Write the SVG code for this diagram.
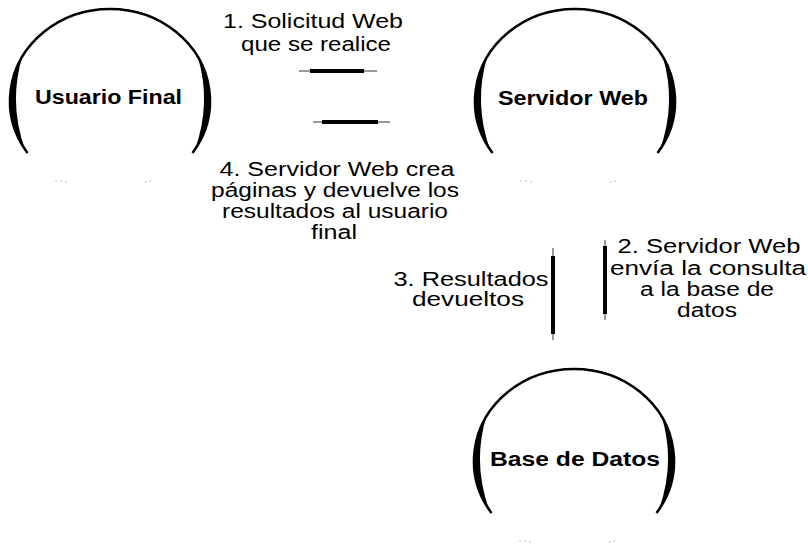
<svg xmlns="http://www.w3.org/2000/svg" xmlns:xlink="http://www.w3.org/1999/xlink" width="808" height="551" viewBox="0 0 808 551">
<style>
.arc{fill:none;stroke:#000;stroke-width:2.5}
.cres{fill:#000}
.dot{fill:#999;opacity:0.7}
.node{font-family:"Liberation Sans",Arial,sans-serif;font-weight:bold;font-size:20px;fill:#000;text-anchor:middle}
.lbl{font-family:"Liberation Sans",Arial,sans-serif;font-size:20px;fill:#000;text-anchor:middle}
.bar{stroke:#000;stroke-width:4}
.fade{stroke:#777;stroke-width:1.5}
</style>
<defs>
<g id="ring">
<path class="arc" d="M-82.5,52 A100,92 0 1,1 82.5,52"/>
<path class="cres" d="M-87.5,-45 A100,92 0 0,0 -84.5,50 Q-102,2 -87.5,-45 Z"/>
<path class="cres" d="M87.5,-45 A100,92 0 0,1 84.5,50 Q102,2 87.5,-45 Z"/>
<circle class="dot" cx="-54" cy="80" r="0.8"/>
<circle class="dot" cx="-49" cy="80" r="0.8"/>
<circle class="dot" cx="-44" cy="81" r="0.8"/>
<circle class="dot" cx="36" cy="81" r="0.8"/>
<circle class="dot" cx="40" cy="80" r="0.8"/>
</g>
</defs>
<rect width="808" height="551" fill="#fff"/>
<g id="usuario-final">
<use xlink:href="#ring" x="110" y="101"/>
<text class="node" x="108.5" y="104" textLength="147" lengthAdjust="spacingAndGlyphs">Usuario Final</text>
</g>
<g id="servidor-web">
<use xlink:href="#ring" x="575" y="101"/>
<text class="node" x="573" y="105" textLength="150" lengthAdjust="spacingAndGlyphs">Servidor Web</text>
</g>
<g id="base-datos">
<use xlink:href="#ring" x="574" y="461"/>
<text class="node" x="575" y="466" textLength="170" lengthAdjust="spacingAndGlyphs">Base de Datos</text>
</g>
<g id="connectors">
<line class="fade" x1="299" y1="71" x2="377" y2="71"/>
<line class="bar" x1="310" y1="71" x2="364" y2="71"/>
<line class="fade" x1="313" y1="122" x2="390" y2="122"/>
<line class="bar" x1="322" y1="122" x2="378" y2="122"/>
<line class="fade" x1="605" y1="240" x2="605" y2="320"/>
<line class="bar" x1="605" y1="246" x2="605" y2="314"/>
<line class="fade" x1="553" y1="248" x2="553" y2="340"/>
<line class="bar" x1="553" y1="256" x2="553" y2="334"/>
<text class="lbl" x="313" y="28" textLength="180" lengthAdjust="spacingAndGlyphs">1. Solicitud Web</text>
<text class="lbl" x="316" y="51" textLength="150" lengthAdjust="spacingAndGlyphs">que se realice</text>
<text class="lbl" x="709" y="253" textLength="183" lengthAdjust="spacingAndGlyphs">2. Servidor Web</text>
<text class="lbl" x="708" y="275" textLength="196" lengthAdjust="spacingAndGlyphs">envía la consulta</text>
<text class="lbl" x="707" y="296" textLength="134" lengthAdjust="spacingAndGlyphs">a la base de</text>
<text class="lbl" x="707" y="317" textLength="60" lengthAdjust="spacingAndGlyphs">datos</text>
<text class="lbl" x="471" y="286" textLength="155" lengthAdjust="spacingAndGlyphs">3. Resultados</text>
<text class="lbl" x="468" y="306" textLength="112" lengthAdjust="spacingAndGlyphs">devueltos</text>
<text class="lbl" x="337" y="176" textLength="235" lengthAdjust="spacingAndGlyphs">4. Servidor Web crea</text>
<text class="lbl" x="335" y="197" textLength="248" lengthAdjust="spacingAndGlyphs">páginas y devuelve los</text>
<text class="lbl" x="335" y="218" textLength="226" lengthAdjust="spacingAndGlyphs">resultados al usuario</text>
<text class="lbl" x="334" y="239" textLength="46" lengthAdjust="spacingAndGlyphs">final</text>
</g>
</svg>
